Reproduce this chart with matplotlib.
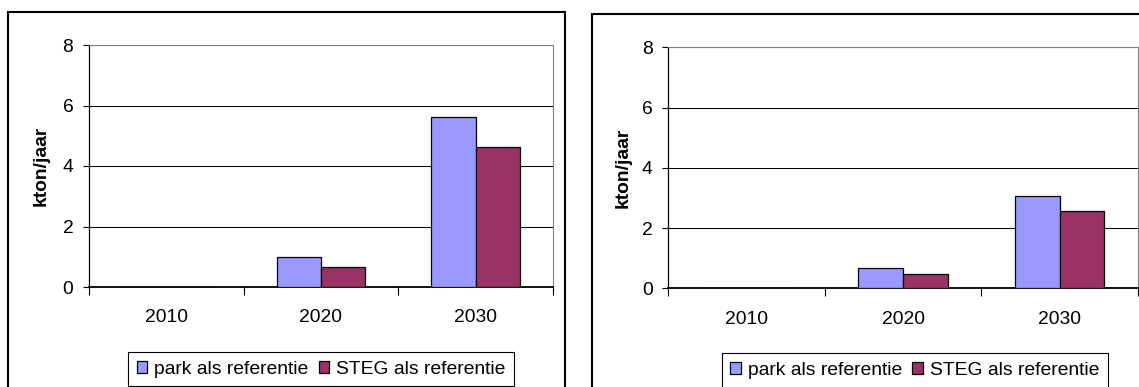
import numpy as np
import matplotlib
matplotlib.use('Agg')
import matplotlib.pyplot as plt
from matplotlib.patches import Rectangle

plt.rcParams['font.family'] = ['Liberation Sans', 'DejaVu Sans']

years = ['2010', '2020', '2030']
series_names = ['park als referentie', 'STEG als referentie']

# kton/jaar per scenario
left_park = [0.0, 1.0, 5.63]
left_steg = [0.0, 0.67, 4.64]
right_park = [0.0, 0.68, 3.07]
right_steg = [0.0, 0.46, 2.57]

y_ticks = [0, 2, 4, 6, 8]
y_label = 'kton/jaar'

COL_PARK = '#9999FF'
COL_STEG = '#993366'
FS = 13.9

W, H = 1139, 387
fig = plt.figure(figsize=(W / 100, H / 100), dpi=100)


def px_axes(x0, y0, x1, y1):
    # axes from pixel corners (top-left origin)
    return fig.add_axes([x0 / W, 1 - y1 / H, (x1 - x0) / W, (y1 - y0) / H])


def draw_panel(ax, park, steg, label_x):
    n = len(years)
    x = np.arange(n)
    w = 1 / 3.5
    b1 = ax.bar(x - w / 2, park, w, color=COL_PARK, edgecolor='black', linewidth=0.9, zorder=3)
    b2 = ax.bar(x + w / 2, steg, w, color=COL_STEG, edgecolor='black', linewidth=0.9, zorder=3)

    ax.set_xlim(-0.5, n - 0.5)
    ax.set_ylim(0, 8)
    ax.set_yticks(y_ticks)
    ax.set_yticklabels([str(t) for t in y_ticks], fontsize=FS)
    ax.tick_params(axis='y', direction='out', length=4.3, width=0.8, pad=7)

    # tick marks between categories, labels in the middle
    ax.set_xticks(np.arange(n + 1) - 0.5)
    ax.set_xticklabels([])
    ax.set_xticks(x, minor=True)
    ax.set_xticklabels(years, minor=True, fontsize=FS)
    ax.tick_params(axis='x', which='major', direction='out', length=5.5, width=0.8)
    ax.tick_params(axis='x', which='minor', length=0, pad=16)

    ax.yaxis.grid(True, color='black', linewidth=0.75, zorder=0)
    ax.set_axisbelow(True)
    for s in ['top', 'right']:
        ax.spines[s].set_color('#808080')
        ax.spines[s].set_linewidth(0.8)
    ax.spines['left'].set_linewidth(0.9)
    ax.spines['bottom'].set_linewidth(1.3)

    ax.set_ylabel(y_label, fontsize=FS, fontweight='bold')
    ax.yaxis.set_label_coords(label_x, 0.5)
    return b1, b2


def add_legend(ax, handles, x0, y0):
    leg = ax.legend(handles, series_names, loc='upper left',
                    bbox_to_anchor=(x0 / W, 1 - y0 / H), bbox_transform=fig.transFigure,
                    ncol=2, fontsize=FS, frameon=True, fancybox=False, shadow=False,
                    edgecolor='black', framealpha=1, borderpad=0.45, borderaxespad=0,
                    handlelength=0.55, handleheight=0.55, handletextpad=0.36,
                    columnspacing=0.52)
    leg.get_frame().set_linewidth(0.8)


# outer chart boxes
fig.patches.append(Rectangle((7.5 / W, -0.1), (565 - 7.5) / W, 1.1 - 12 / H,
                             transform=fig.transFigure, fill=False,
                             edgecolor='black', linewidth=1.5))
fig.patches.append(Rectangle((591.7 / W, -0.1), 0.5, 1.1 - 14 / H,
                             transform=fig.transFigure, fill=False,
                             edgecolor='black', linewidth=1.5))

ax1 = px_axes(89, 45, 553, 287)
h1 = draw_panel(ax1, left_park, left_steg, -0.084)
add_legend(ax1, h1, 128, 352)

ax2 = px_axes(668.3, 47.3, 1138, 288.3)
h2 = draw_panel(ax2, right_park, right_steg, -0.079)
add_legend(ax2, h2, 721.7, 353.3)

fig.savefig('out.png', dpi=100)
